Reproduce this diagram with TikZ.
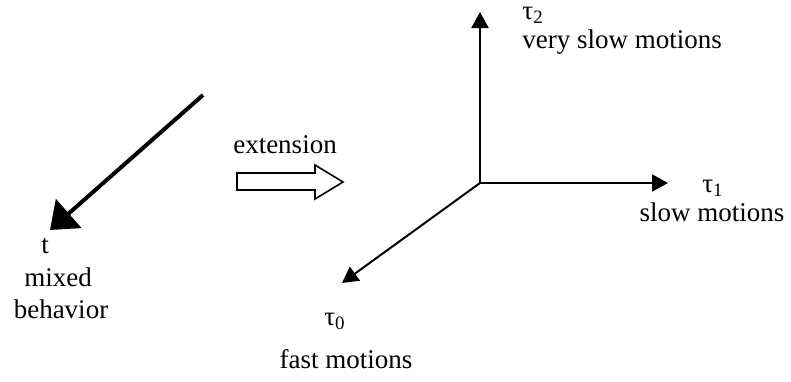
\documentclass[tikz,border=0pt]{standalone}
\usepackage{fontspec}
\setmainfont{Liberation Serif}
\usepackage{tikz}
\usetikzlibrary{arrows.meta, positioning}

\begin{document}
\begin{tikzpicture}[
    x=0.5pt, y=-0.5pt,
    lbl/.style={inner sep=0pt, font=\fontsize{13.5}{16}\selectfont},
    axis/.style={-{Triangle[length=8pt, width=8.5pt]}, line width=1pt},
    bigarrow/.style={-{Triangle[length=12.5pt, width=19pt]}, line width=2pt},
    hollow/.style={draw, line width=0.8pt, line join=miter},
]
\useasboundingbox (0,0) rectangle (791,381);

% linke Seite: eine Zeitachse
\coordinate (tstart) at (203,95);
\coordinate (ttip) at (50,230);
\draw[bigarrow] (tstart) -- (ttip);
\node[lbl, anchor=base] (t) at (45,253) {t};
\node[lbl, anchor=base] (mixed) at (58,286) {mixed};
\node[lbl, anchor=base] (behav) at (61,318) {behavior};

% Erweiterung
\node[lbl, anchor=base] (ext) at (285,153) {extension};
\draw[hollow] (237,173) -- (315,173) -- (315,165) -- (343,182)
    -- (315,199) -- (315,190) -- (237,190) -- cycle;

% rechte Seite: drei Zeitskalen
\coordinate (O) at (480,183);
\coordinate (tau2tip) at (480,12);
\coordinate (tau1tip) at (668,183);
\coordinate (tau0tip) at (342,283);
\draw[axis] (O) -- (tau2tip);
\draw[axis] (O) -- (tau1tip);
\draw[axis] (O) -- (tau0tip);

\node[lbl, anchor=base west] (tau2) at (522,19) {τ\textsubscript{2}};
\node[lbl, anchor=base west] (vslow) at (522,48) {very slow motions};
\node[lbl, anchor=base] (tau1) at (713,192) {τ\textsubscript{1}};
\node[lbl, anchor=base] (slow) at (712,221) {slow motions};
\node[lbl, anchor=base] (tau0) at (335,325) {τ\textsubscript{0}};
\node[lbl, anchor=base] (fast) at (346,368) {fast motions};

\end{tikzpicture}
\end{document}
